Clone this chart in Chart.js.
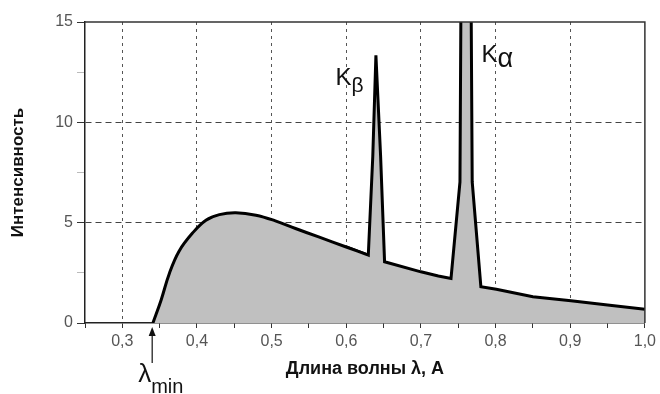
<!DOCTYPE html>
<html>
<head>
<meta charset="utf-8">
<script src="https://cdn.jsdelivr.net/npm/chart.js@4"></script>
<style>
html,body{margin:0;padding:0;background:#fff;}
</style>
</head>
<body>
<canvas id="c" width="660" height="394"></canvas>
<script>
// ---- data ----
// smooth bremsstrahlung continuum
const continuumWavelength = [0.341, 0.352, 0.363, 0.376, 0.394, 0.412, 0.430, 0.452, 0.479, 0.505, 0.532, 0.563, 0.599, 0.6295];
const continuumIntensity  = [0, 1.15, 2.47, 3.58, 4.48, 5.12, 5.40, 5.49, 5.37, 5.09, 4.71, 4.29, 3.80, 3.38];
// part with the characteristic K-lines (starts on the continuum so both fills overlap)
const linesWavelength = [0.599, 0.6295, 0.6355, 0.6397, 0.646, 0.6513, 0.700, 0.7233, 0.7403, 0.7523, 0.760, 0.7687, 0.7803, 0.801, 0.850, 0.901, 0.950, 1.000];
const linesIntensity  = [3.80, 3.38, 8.30, 13.34, 8.30, 3.05, 2.55, 2.34, 2.22, 7.03, 60, 7.03, 1.81, 1.68, 1.31, 1.11, 0.90, 0.68];

const xMajorTicks = [0.3, 0.4, 0.5, 0.6, 0.7, 0.8, 0.9, 1.0];
const xTickLabels = ['0,3', '0,4', '0,5', '0,6', '0,7', '0,8', '0,9', '1,0'];
const yMajorTicks = [0, 5, 10, 15];
const yTickLabels = ['0', '5', '10', '15'];
const xGridValues = [0.3, 0.4, 0.5, 0.6, 0.7, 0.8, 0.9];
const yGridValues = [5, 10];

const lambdaMin = 0.34;
const peakLabels = [
  {main: 'K', sub: 'β', at: [0.5856, 11.85]},
  {main: 'K', sub: 'α', at: [0.781, 13.0]}
];

const near = (a, b) => Math.abs(a - b) < 1e-6;
const findIdx = (arr, v) => arr.findIndex(t => near(t, v));
const toPoints = (xs, ys) => xs.map((w, i) => ({x: w, y: ys[i]}));

const FONT = '"Liberation Sans", Arial, sans-serif';

const annotate = {
  id: 'annotate',
  afterDatasetsDraw(chart) {
    const {ctx, chartArea: a, scales: {x, y}} = chart;
    ctx.save();
    ctx.strokeStyle = '#333';
    ctx.lineWidth = 1.5;
    ctx.beginPath();
    ctx.moveTo(a.left, a.top);
    ctx.lineTo(a.right, a.top);
    ctx.lineTo(a.right, a.bottom);
    ctx.stroke();

    ctx.fillStyle = '#111';
    ctx.textBaseline = 'alphabetic';
    ctx.textAlign = 'left';
    peakLabels.forEach((p, i) => {
      const px = x.getPixelForValue(p.at[0]);
      const py = y.getPixelForValue(p.at[1]);
      ctx.font = '24px ' + FONT;
      ctx.fillText(p.main, px, py);
      const w = ctx.measureText(p.main).width;
      if (i === 0) {
        ctx.font = '21px ' + FONT;
        ctx.fillText(p.sub, px + w, py + 7);
      } else {
        ctx.font = '27px ' + FONT;
        ctx.fillText(p.sub, px + w, py + 5);
      }
    });

    const lx = x.getPixelForValue(lambdaMin);
    const tip = a.bottom + 4;
    ctx.strokeStyle = '#111';
    ctx.lineWidth = 1.2;
    ctx.beginPath();
    ctx.moveTo(lx, tip + 8);
    ctx.lineTo(lx, tip + 36);
    ctx.stroke();
    ctx.beginPath();
    ctx.moveTo(lx, tip);
    ctx.lineTo(lx - 3.5, tip + 9);
    ctx.lineTo(lx + 3.5, tip + 9);
    ctx.closePath();
    ctx.fill();
    ctx.font = '26px ' + FONT;
    ctx.textAlign = 'right';
    ctx.fillText('λ', lx - 1, a.bottom + 59);
    ctx.font = '20px ' + FONT;
    ctx.textAlign = 'left';
    ctx.fillText('min', lx - 1, a.bottom + 70);
    ctx.restore();
  }
};

new Chart(document.getElementById('c'), {
  type: 'line',
  data: {
    datasets: [{
      data: toPoints(linesWavelength, linesIntensity),
      borderColor: '#000',
      borderWidth: 3,
      backgroundColor: '#c0c0c0',
      fill: 'origin',
      pointRadius: 0,
      tension: 0,
      order: 2
    }, {
      data: toPoints(continuumWavelength, continuumIntensity),
      borderColor: '#000',
      borderWidth: 3,
      backgroundColor: '#c0c0c0',
      fill: 'origin',
      pointRadius: 0,
      tension: 0.4,
      order: 1
    }]
  },
  options: {
    responsive: false,
    animation: false,
    events: [],
    layout: {padding: {top: 22, right: 13, left: 0, bottom: 0}},
    plugins: {legend: {display: false}, tooltip: {enabled: false}},
    scales: {
      x: {
        type: 'linear',
        min: 0.25,
        max: 1.0,
        afterFit(s) { s.height = 71; },
        ticks: {
          stepSize: 0.05,
          autoSkip: false,
          maxRotation: 0,
          padding: 4,
          color: '#555',
          font: {family: FONT, size: 16},
          callback(v) { const i = findIdx(xMajorTicks, v); return i >= 0 ? xTickLabels[i] : ''; }
        },
        grid: {
          tickLength: 5,
          lineWidth: 1,
          color: (c) => (c.tick && findIdx(xGridValues, c.tick.value) >= 0) ? '#555' : 'rgba(0,0,0,0)',
          tickColor: '#333',
          tickBorderDash: []
        },
        border: {display: true, color: '#222', width: 1.5, dash: [3, 4]},
        title: {
          display: true,
          text: 'Длина волны λ, А',
          color: '#111',
          font: {family: FONT, size: 18, weight: 'bold'},
          padding: {top: 0, bottom: 14}
        }
      },
      y: {
        min: 0,
        max: 15,
        afterFit(s) { s.width = 85; },
        ticks: {
          stepSize: 2.5,
          autoSkip: false,
          padding: 4,
          color: '#555',
          font: {family: FONT, size: 16},
          callback(v) { const i = findIdx(yMajorTicks, v); return i >= 0 ? yTickLabels[i] : ''; }
        },
        grid: {
          tickLength: 8,
          lineWidth: 1,
          color: (c) => (c.tick && findIdx(yGridValues, c.tick.value) >= 0) ? '#444' : 'rgba(0,0,0,0)',
          tickColor: (c) => (c.tick && findIdx(yMajorTicks, c.tick.value) >= 0) ? '#333' : '#bbb',
          tickBorderDash: []
        },
        border: {display: true, color: '#222', width: 1.5, dash: [6, 4]},
        title: {
          display: true,
          text: 'Интенсивность',
          color: '#111',
          font: {family: FONT, size: 17, weight: 'bold'},
          padding: {top: 8, bottom: 0}
        }
      }
    }
  },
  plugins: [annotate]
});
</script>
</body>
</html>
